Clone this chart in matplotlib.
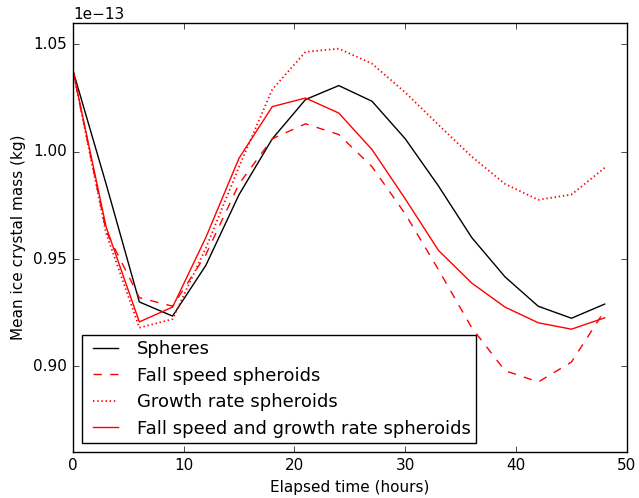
import matplotlib
matplotlib.use('Agg')
import matplotlib.pyplot as plt
import numpy as np

plt.style.use('classic')

hours = np.arange(0, 49, 3)

# mean ice crystal mass, units of 1e-13 kg
spheres = [1.038, 0.985, 0.930, 0.9234, 0.947, 0.980, 1.006, 1.0243, 1.0308, 1.0235,
           1.006, 0.984, 0.960, 0.9417, 0.928, 0.9224, 0.929]
fall_speed = [1.038, 0.963, 0.932, 0.928, 0.952, 0.985, 1.006, 1.013, 1.008, 0.993,
              0.971, 0.945, 0.918, 0.898, 0.8927, 0.902, 0.926]
growth_rate = [1.038, 0.962, 0.918, 0.922, 0.955, 0.993, 1.029, 1.0465, 1.048, 1.041,
               1.0276, 1.0125, 0.9977, 0.985, 0.9776, 0.980, 0.9925]
both = [1.038, 0.965, 0.9207, 0.9276, 0.960, 0.997, 1.021, 1.025, 1.018, 1.001,
        0.978, 0.954, 0.9388, 0.9276, 0.9203, 0.9173, 0.9226]

fig = plt.figure(figsize=(6.39, 4.98), dpi=100, facecolor='white')
ax = fig.add_axes([0.114, 0.092, 0.867, 0.862])

scale = 1e-13
ax.plot(hours, np.array(spheres) * scale, 'k-', label='Spheres')
ax.plot(hours, np.array(fall_speed) * scale, 'r--', label='Fall speed spheroids')
ax.plot(hours, np.array(growth_rate) * scale, 'r', lw=1.3, dashes=(1, 2),
        label='Growth rate spheroids')
ax.plot(hours, np.array(both) * scale, 'r-', label='Fall speed and growth rate spheroids')

ax.set_xlim(0, 50)
ax.set_ylim(0.86e-13, 1.06e-13)
ax.set_yticks(np.array([0.90, 0.95, 1.00, 1.05]) * scale)
ax.set_xlabel('Elapsed time (hours)', fontsize=11)
ax.set_ylabel('Mean ice crystal mass (kg)', fontsize=11)
ax.tick_params(labelsize=11)
ax.yaxis.get_offset_text().set_fontsize(11)

ax.legend(loc='lower left', fontsize=13, borderpad=0.3, labelspacing=0.47,
          handletextpad=0.75)

fig.savefig('out.png', dpi=100, facecolor='white')
